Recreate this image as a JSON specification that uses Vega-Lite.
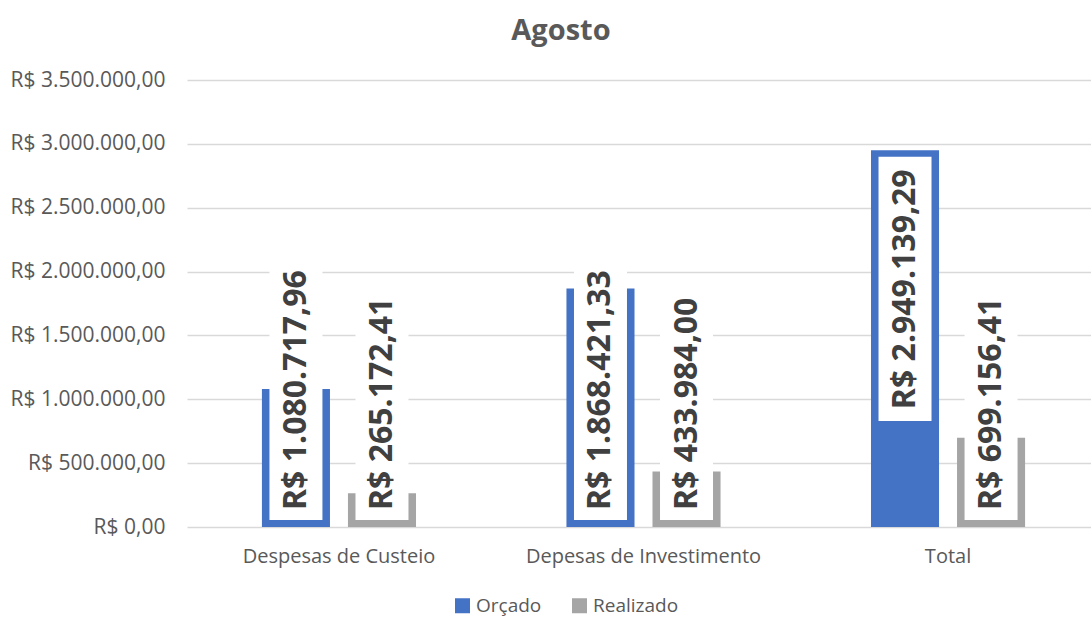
{
  "$schema": "https://vega.github.io/schema/vega-lite/v6.json",
  "width": 904,
  "height": 447,
  "autosize": {"type": "none"},
  "padding": {"left": 187, "top": 80, "right": 0, "bottom": 93},
  "background": "white",
  "config": {
    "locale": {"number": {"decimal": ",", "thousands": ".", "grouping": [3], "currency": ["R$ ", ""]}},
    "view": {"stroke": null},
    "font": "Open Sans"
  },
  "title": {
    "text": "Agosto",
    "font": "Open Sans",
    "fontSize": 29,
    "fontWeight": "bold",
    "color": "#595959",
    "anchor": "middle",
    "offset": 23,
    "dx": -78
  },
  "data": {
    "values": [
      {"categoria": "Despesas de Custeio", "serie": "Orçado", "valor": 1080717.96},
      {"categoria": "Despesas de Custeio", "serie": "Realizado", "valor": 265172.41},
      {"categoria": "Depesas de Investimento", "serie": "Orçado", "valor": 1868421.33},
      {"categoria": "Depesas de Investimento", "serie": "Realizado", "valor": 433984.00},
      {"categoria": "Total", "serie": "Orçado", "valor": 2949139.29},
      {"categoria": "Total", "serie": "Realizado", "valor": 699156.41}
    ]
  },
  "encoding": {
    "x": {
      "field": "categoria",
      "type": "nominal",
      "sort": ["Despesas de Custeio", "Depesas de Investimento", "Total"],
      "scale": {"range": [0, 913], "paddingInner": 0.494, "paddingOuter": 0.246},
      "axis": {
        "title": null,
        "labelAngle": 0,
        "labelFont": "Open Sans",
        "labelFontSize": 20,
        "labelColor": "#595959",
        "labelPadding": 19,
        "labelLimit": 0,
        "ticks": false,
        "domain": false,
        "grid": false
      }
    },
    "xOffset": {
      "field": "serie",
      "type": "nominal",
      "sort": ["Orçado", "Realizado"],
      "scale": {"paddingInner": 0.209, "paddingOuter": 0}
    }
  },
  "layer": [
    {
      "mark": {"type": "bar"},
      "encoding": {
        "y": {
          "field": "valor",
          "type": "quantitative",
          "scale": {"domain": [0, 3500000], "nice": false},
          "axis": {
            "title": null,
            "values": [0, 500000, 1000000, 1500000, 2000000, 2500000, 3000000, 3500000],
            "format": "$,.2f",
            "labelFont": "Open Sans",
            "labelFontSize": 21,
            "labelColor": "#595959",
            "labelPadding": 22,
            "ticks": false,
            "domain": false,
            "grid": true,
            "gridColor": "#D9D9D9",
            "gridWidth": 1.5
          }
        },
        "color": {
          "field": "serie",
          "type": "nominal",
          "sort": ["Orçado", "Realizado"],
          "scale": {"domain": ["Orçado", "Realizado"], "range": ["#4472C4", "#A5A5A5"]},
          "legend": {
            "title": null,
            "orient": "none",
            "direction": "horizontal",
            "legendX": 266,
            "legendY": 516,
            "symbolType": "square",
            "symbolSize": 225,
            "symbolStrokeWidth": 0,
            "labelFont": "Open Sans",
            "labelFontSize": 19,
            "labelColor": "#595959",
            "labelOffset": 4,
            "columnPadding": 28,
            "padding": 0
          }
        }
      }
    },
    {
      "transform": [{"filter": "datum.valor < 2000000"}],
      "mark": {
        "type": "bar",
        "color": "white",
        "width": 53,
        "yOffset": -7,
        "y2Offset": {"expr": "-(17 + 18.3*(floor(log(datum.valor)/LN10)+3) + 9*(floor(floor(log(datum.valor)/LN10)/3)+1) + 48 + 11)"}
      },
      "encoding": {
        "y": {"datum": 0, "type": "quantitative"},
        "y2": {"datum": 0}
      }
    },
    {
      "transform": [{"filter": "datum.valor >= 2000000"}],
      "mark": {
        "type": "bar",
        "color": "white",
        "width": 53,
        "yOffset": 6.5,
        "y2Offset": {"expr": "19 + 18.3*(floor(log(datum.valor)/LN10)+3) + 9*(floor(floor(log(datum.valor)/LN10)/3)+1) + 48 + 12"}
      },
      "encoding": {
        "y": {"field": "valor", "type": "quantitative"},
        "y2": {"field": "valor"}
      }
    },
    {
      "transform": [{"filter": "datum.valor < 2000000"}],
      "mark": {
        "type": "text", "angle": 270, "align": "left", "baseline": "middle",
        "font": "Open Sans", "fontSize": 32, "fontWeight": "bold",
        "color": "#404040", "yOffset": -17
      },
      "encoding": {
        "y": {"datum": 0, "type": "quantitative"},
        "text": {"field": "valor", "type": "quantitative", "format": "$,.2f"}
      }
    },
    {
      "transform": [{"filter": "datum.valor >= 2000000"}],
      "mark": {
        "type": "text", "angle": 270, "align": "right", "baseline": "middle",
        "font": "Open Sans", "fontSize": 32, "fontWeight": "bold",
        "color": "#404040", "yOffset": 19
      },
      "encoding": {
        "y": {"field": "valor", "type": "quantitative"},
        "text": {"field": "valor", "type": "quantitative", "format": "$,.2f"}
      }
    }
  ]
}
